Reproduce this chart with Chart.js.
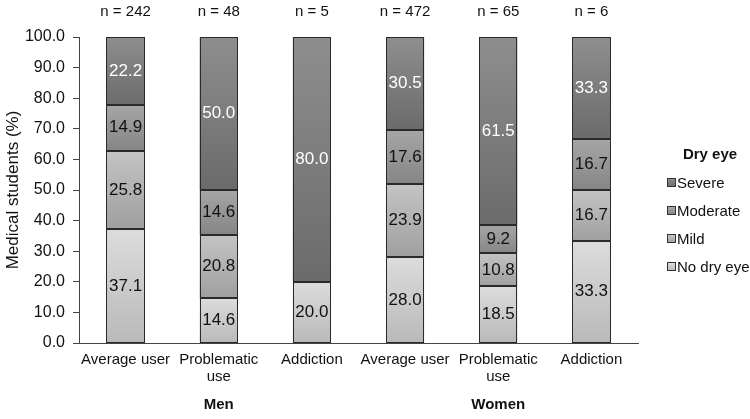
<!DOCTYPE html>
<html>
<head>
<meta charset="utf-8">
<script src="https://cdn.jsdelivr.net/npm/chart.js@4"></script>
<style>
  html, body { margin: 0; padding: 0; background: #fff; }
  #wrap { width: 750px; height: 419px; }
</style>
</head>
<body>
<div id="wrap"><canvas id="dry-eye-chart"></canvas></div>
<script>
// categories (two-line labels where the original wraps)
const categories = [
  'Average user', ['Problematic', 'use'], 'Addiction',
  'Average user', ['Problematic', 'use'], 'Addiction'
];
const groups = ['Men', 'Women'];
const sampleSizes = ['n = 242', 'n = 48', 'n = 5', 'n = 472', 'n = 65', 'n = 6'];

// percentages, bottom of the stack first
const noDryEye = [37.1, 14.6, 20.0, 28.0, 18.5, 33.3];
const mild     = [25.8, 20.8, 0,    23.9, 10.8, 16.7];
const moderate = [14.9, 14.6, 0,    17.6, 9.2,  16.7];
const severe   = [22.2, 50.0, 80.0, 30.5, 61.5, 33.3];

const seriesNames = ['No dry eye', 'Mild', 'Moderate', 'Severe'];
const seriesData = [noDryEye, mild, moderate, severe];
// gradient stops: top colour, bottom colour
const seriesShades = [
  ['#dcdcdc', '#b9b9b9'],
  ['#c4c4c4', '#9f9f9f'],
  ['#a6a6a6', '#858585'],
  ['#8e8e8e', '#6b6b6b']
];
const labelColors = ['#111', '#111', '#111', '#fff'];

const FONT = "'Liberation Sans', Arial, sans-serif";

function segmentFill(ctx) {
  const chart = ctx.chart;
  const shades = seriesShades[ctx.datasetIndex];
  if (!chart.chartArea || ctx.type !== 'data') return shades[1];
  const y = chart.scales.y;
  let lo = 0;
  for (let k = 0; k < ctx.datasetIndex; k++) lo += seriesData[k][ctx.dataIndex];
  const hi = lo + seriesData[ctx.datasetIndex][ctx.dataIndex];
  if (hi === lo) return shades[1];
  const g = chart.ctx.createLinearGradient(0, y.getPixelForValue(hi), 0, y.getPixelForValue(lo));
  g.addColorStop(0, shades[0]);
  g.addColorStop(1, shades[1]);
  return g;
}

// crisp outlines + values printed in the middle of each segment
const segmentLabels = {
  id: 'segmentLabels',
  afterDatasetsDraw(chart) {
    const c = chart.ctx;
    c.save();
    c.strokeStyle = '#2a2a2a';
    c.lineWidth = 1;
    chart.data.datasets.forEach((ds, i) => {
      chart.getDatasetMeta(i).data.forEach((bar, j) => {
        if (!ds.data[j]) return;
        const l = Math.round(bar.x - bar.width / 2) + 0.5;
        const r = Math.round(bar.x + bar.width / 2) - 0.5;
        const t = Math.round(bar.y) + 0.5;
        const b = Math.round(bar.base) - 0.5;
        c.strokeRect(l, t, r - l, b - t);
      });
    });

    c.font = '17px ' + FONT;
    c.textAlign = 'center';
    c.textBaseline = 'middle';
    chart.data.datasets.forEach((ds, i) => {
      chart.getDatasetMeta(i).data.forEach((bar, j) => {
        const v = ds.data[j];
        if (!v) return;
        c.fillStyle = labelColors[i];
        c.fillText(v.toFixed(1), bar.x, (bar.y + bar.base) / 2);
      });
    });
    c.restore();
  }
};

// n = ... above bars, group names under the axis, legend on the right
const extras = {
  id: 'extras',
  afterDraw(chart) {
    const c = chart.ctx;
    const x = chart.scales.x;
    c.save();
    c.fillStyle = '#111';
    c.textAlign = 'center';
    c.textBaseline = 'middle';
    c.font = '15px ' + FONT;
    sampleSizes.forEach((t, i) => c.fillText(t, x.getPixelForValue(i), 12));

    c.font = 'bold 15px ' + FONT;
    groups.forEach((g, i) => c.fillText(g, x.getPixelForValue(i * 3 + 1), 405));

    // legend
    c.fillText('Dry eye', 710, 155);
    c.font = '15px ' + FONT;
    c.textAlign = 'left';
    for (let k = seriesNames.length - 1, row = 0; k >= 0; k--, row++) {
      const cy = 183 + row * 28;
      const sh = seriesShades[k];
      const g = c.createLinearGradient(0, cy - 4, 0, cy + 4);
      g.addColorStop(0, sh[0]);
      g.addColorStop(1, sh[1]);
      c.fillStyle = g;
      c.fillRect(667.5, cy - 4.5, 8, 8);
      c.strokeStyle = '#333';
      c.lineWidth = 1;
      c.strokeRect(667.5, cy - 4.5, 8, 8);
      c.fillStyle = '#111';
      c.fillText(seriesNames[k], 677, cy + 1);
    }
    c.restore();
  }
};

const chart = new Chart(document.getElementById('dry-eye-chart'), {
  type: 'bar',
  data: {
    labels: categories,
    datasets: seriesNames.map((name, i) => ({
      label: name,
      data: seriesData[i],
      backgroundColor: segmentFill,
      borderWidth: 0,
      inflateAmount: 0,
      barPercentage: 0.41,
      categoryPercentage: 1
    }))
  },
  options: {
    responsive: true,
    maintainAspectRatio: false,
    animation: false,
    layout: { padding: { top: 37, right: 112, left: 0, bottom: 0 } },
    plugins: {
      legend: { display: false },
      tooltip: { enabled: false }
    },
    scales: {
      x: {
        stacked: true,
        grid: { display: false, drawTicks: false },
        border: { display: true, color: '#444', width: 1 },
        ticks: {
          color: '#111',
          font: { family: FONT, size: 15, lineHeight: 1.15 },
          padding: 8,
          maxRotation: 0,
          autoSkip: false
        },
        afterFit(scale) { scale.height = 76; }
      },
      y: {
        stacked: true,
        min: 0,
        max: 100,
        grid: { drawOnChartArea: false, drawTicks: true, tickLength: 6, color: '#444' },
        border: { display: true, color: '#444', width: 1 },
        ticks: {
          stepSize: 10,
          color: '#111',
          padding: 8,
          font: { family: FONT, size: 16 },
          callback: v => Number(v).toFixed(1)
        },
        title: {
          display: true,
          text: 'Medical students (%)',
          color: '#111',
          font: { family: FONT, size: 17 },
          padding: 3
        },
        afterFit(scale) { scale.width = 79; }
      }
    }
  },
  plugins: [segmentLabels, extras]
});
chart.update();
</script>
</body>
</html>
